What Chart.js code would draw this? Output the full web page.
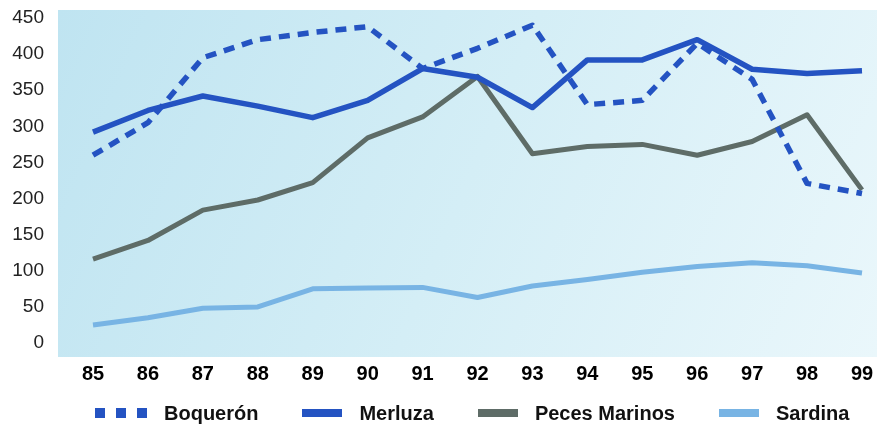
<!DOCTYPE html>
<html>
<head>
<meta charset="utf-8">
<script src="https://cdn.jsdelivr.net/npm/chart.js@4.4.1/dist/chart.umd.min.js"></script>
<style>
  html, body { margin: 0; padding: 0; background: #fff; }
  #wrap { position: relative; width: 877px; height: 430px; }
  #legend {
    position: absolute; left: 95px; top: 401px; height: 24px;
    display: flex; align-items: center; white-space: nowrap;
    font: bold 20px "Liberation Sans", Arial, sans-serif; color: #111;
  }
  .item { display: flex; align-items: center; margin-right: 44px; flex: none; }
  .mark { margin-right: 17px; flex: none; }
</style>
</head>
<body>
<div id="wrap">
  <canvas id="chart" width="877" height="430"></canvas>
  <div id="legend"></div>
</div>
<script>
// Years (x axis)
const years = ["85", "86", "87", "88", "89", "90", "91", "92", "93", "94", "95", "96", "97", "98", "99"];
const yTicks = [0, 50, 100, 150, 200, 250, 300, 350, 400, 450];

// Series values
const boqueron = [260, 305, 395, 420, 430, 438, 380, 408, 440, 330, 336, 415, 365, 221, 207];
const merluza = [292, 322, 342, 328, 312, 336, 380, 368, 326, 392, 392, 420, 379, 373, 377];
const pecesMarinos = [116, 142, 184, 198, 222, 284, 313, 369, 262, 272, 275, 260, 279, 316, 212];
const sardina = [25, 35, 48, 50, 75, 76, 77, 63, 79, 88, 98, 106, 111, 107, 97];

const seriesNames = ["Boquerón", "Merluza", "Peces Marinos", "Sardina"];
const seriesColors = ["#2453c2", "#2453c2", "#5e6c67", "#78b4e4"];

// Plot background (light blue wash, a bit wider than the axes)
const plotBackground = {
  id: "plotBackground",
  beforeDraw(chart) {
    const { ctx, chartArea } = chart;
    const x0 = chartArea.left - 35, x1 = chart.width;
    const y0 = chartArea.top - 8, y1 = chartArea.bottom + 14;
    const g = ctx.createLinearGradient(x0, y0, x1, y1);
    g.addColorStop(0, "#bfe4f1");
    g.addColorStop(0.5, "#d4eef6");
    g.addColorStop(1, "#eaf7fb");
    ctx.save();
    ctx.fillStyle = g;
    ctx.fillRect(x0, y0, x1 - x0, y1 - y0);
    ctx.restore();
  },
};

const ctx = document.getElementById("chart").getContext("2d");
new Chart(ctx, {
  type: "line",
  data: {
    labels: years,
    datasets: [
      {
        label: seriesNames[0],
        data: boqueron,
        borderColor: seriesColors[0],
        borderWidth: 5.5,
        borderDash: [11, 8],
      },
      {
        label: seriesNames[1],
        data: merluza,
        borderColor: seriesColors[1],
        borderWidth: 5.5,
      },
      {
        label: seriesNames[2],
        data: pecesMarinos,
        borderColor: seriesColors[2],
        borderWidth: 5,
      },
      {
        label: seriesNames[3],
        data: sardina,
        borderColor: seriesColors[3],
        borderWidth: 5,
      },
    ],
  },
  options: {
    responsive: false,
    animation: false,
    layout: { padding: { top: 18, right: 15, bottom: 45, left: 0 } },
    elements: {
      point: { radius: 0 },
      line: { tension: 0, borderJoinStyle: "round", fill: false },
    },
    plugins: { legend: { display: false }, tooltip: { enabled: false } },
    scales: {
      x: {
        offset: false,
        grid: { display: false, drawTicks: false },
        border: { display: false },
        ticks: {
          padding: 19,
          color: "#000",
          maxRotation: 0,
          autoSkip: false,
          font: { family: "Liberation Sans", size: 20, weight: "bold" },
        },
        afterFit: (scale) => {
          scale.height = 42;
          scale.paddingLeft = 0;
          scale.paddingRight = 0;
        },
      },
      y: {
        min: 0,
        max: 450,
        grid: { display: false, drawTicks: false },
        border: { display: false },
        afterBuildTicks: (scale) => { scale.ticks = yTicks.map((v) => ({ value: v })); },
        ticks: {
          padding: 49,
          color: "#222",
          font: { family: "Liberation Sans", size: 19 },
        },
        afterFit: (scale) => {
          scale.width = 93;
          scale.paddingTop = 0;
          scale.paddingBottom = 0;
        },
      },
    },
  },
  plugins: [plotBackground],
});

// Legend
const legend = document.getElementById("legend");
seriesNames.forEach((name, i) => {
  const item = document.createElement("div");
  item.className = "item";
  let mark;
  if (i === 0) {
    mark = `<span class="mark" style="display:flex;gap:11px">` +
      [0, 1, 2].map(() => `<span style="width:10px;height:10px;background:${seriesColors[0]}"></span>`).join("") +
      `</span>`;
  } else {
    mark = `<span class="mark" style="width:40px;height:8px;background:${seriesColors[i]}"></span>`;
  }
  item.innerHTML = mark + `<span>${name}</span>`;
  legend.appendChild(item);
});
</script>
</body>
</html>
